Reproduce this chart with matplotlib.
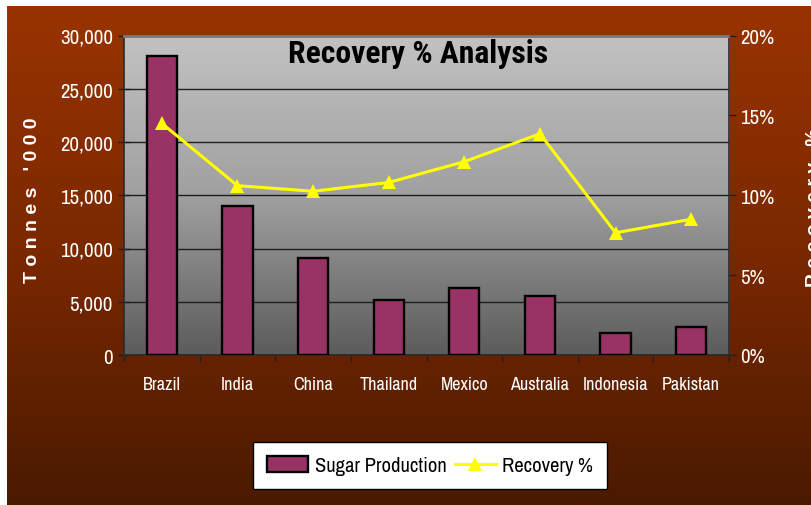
import matplotlib
matplotlib.use('Agg')
import matplotlib.pyplot as plt
import numpy as np
from matplotlib import font_manager as fm
from matplotlib.colors import LinearSegmentedColormap
from matplotlib.patches import Patch
from matplotlib.lines import Line2D
from matplotlib.ticker import FuncFormatter

# ---- data ----
categories = ['Brazil', 'India', 'China', 'Thailand', 'Mexico', 'Australia', 'Indonesia', 'Pakistan']
production = [28100, 14000, 9100, 5200, 6300, 5500, 2100, 2600]          # Tonnes '000
recovery = [14.5, 10.6, 10.25, 10.8, 12.1, 13.85, 7.65, 8.5]               # %
left_ticks = [0, 5000, 10000, 15000, 20000, 25000, 30000]
right_ticks = [0, 5, 10, 15, 20]
title = 'Recovery % Analysis'
left_label = "Tonnes '000"
right_label = 'Recovery %'
series_names = ['Sugar Production', 'Recovery %']

# ---- fonts: prefer a condensed sans (like Arial Narrow) ----
def _w(v):
    return v if isinstance(v, (int, float)) else fm.weight_dict.get(str(v), 400)

faces = {}
for f in fm.fontManager.ttflist:
    faces.setdefault(f.name, set()).add(_w(f.weight))

narrow_pref = ['Liberation Sans Narrow', 'Arial Narrow', 'Archivo Narrow', 'Roboto Condensed',
               'PT Sans Narrow', 'Barlow Condensed', 'Asap Condensed', 'Pragati Narrow']
bold_pref = ['Liberation Sans Narrow', 'Arial Narrow', 'Roboto Condensed', 'PT Sans Narrow',
             'Archivo Narrow', 'Asap Condensed', 'Barlow Condensed', 'Fira Sans Condensed',
             'IBM Plex Sans Condensed', 'Encode Sans Condensed', 'Saira Condensed']
narrow = next((f for f in narrow_pref if f in faces), None)
narrow_bold = next((f for f in bold_pref if f in faces and max(faces[f]) >= 600), None)

WIDE = ['Liberation Sans', 'DejaVu Sans']
NARROW = ([narrow] if narrow else []) + WIDE
NARROW_BOLD = ([narrow_bold] if narrow_bold else []) + WIDE
plt.rcParams['font.family'] = NARROW

k = 1.0 if narrow else 0.82
kb = 1.0 if narrow_bold else 0.8
FS_TITLE = 22.8 * kb
FS_TICK = 15 * k
FS_CAT = 13 * k
FS_LEG = 14.8 * k

W, H = 811, 506
fig = plt.figure(figsize=(W / 100, H / 100), dpi=100, facecolor='white')

# background gradient (brown)
bg = fig.add_axes([7 / W, 0, 1 - 7 / W, 1 - 7 / H], zorder=-10)
bg.axis('off')
grad = np.linspace(0, 1, 256).reshape(-1, 1)
bg.imshow(grad, cmap=LinearSegmentedColormap.from_list('bg', ['#993300', '#7a2800', '#4a1a00']),
          aspect='auto', extent=[0, 1, 0, 1], origin='upper')

# main axes
ax = fig.add_axes([124 / W, 1 - 356 / H, (729 - 124) / W, (356 - 36.5) / H])
ax.set_facecolor('none')
ax.imshow(grad, cmap=LinearSegmentedColormap.from_list('pl', ['#c2c2c2', '#a0a0a0', '#5c5c5c']),
          aspect='auto', extent=[0, 1, 0, 1], origin='upper', transform=ax.transAxes, zorder=0)

x = np.arange(len(categories))
ax.bar(x, production, width=0.4, color='#993366', edgecolor='black', linewidth=1.7, zorder=3)
ax.set_xlim(-0.5, len(categories) - 0.5)
ax.set_ylim(0, 30000)
ax.set_yticks(left_ticks)
ax.yaxis.set_major_formatter(FuncFormatter(lambda v, p: f'{int(v):,}'))
ax.set_xticks(x)
ax.set_xticklabels(categories)
ax.set_xticks(np.arange(len(categories) + 1) - 0.5, minor=True)
ax.tick_params(axis='x', which='major', length=0, pad=15, labelsize=FS_CAT, labelcolor='white')
ax.tick_params(axis='x', which='minor', direction='out', length=5, width=1, color='#202020')
ax.tick_params(axis='y', which='major', direction='inout', length=8, width=1, color='#202020',
               pad=4, labelsize=FS_TICK, labelcolor='white')
ax.grid(axis='y', color='#1e1e1e', linewidth=1.0)
ax.set_axisbelow('line')
for s in ['left', 'right', 'bottom']:
    ax.spines[s].set_color('#2a2a2a')
    ax.spines[s].set_linewidth(1.2)
ax.spines['top'].set_color('#7a7a7a')
ax.spines['top'].set_linewidth(2)

# secondary axis
ax2 = ax.twinx()
ax2.plot(x, recovery, color='#ffff00', linewidth=2.2, marker='^', markersize=10,
         markeredgewidth=0, zorder=5)
ax2.set_ylim(0, 20)
ax2.set_yticks(right_ticks)
ax2.yaxis.set_major_formatter(FuncFormatter(lambda v, p: f'{int(v)}%'))
ax2.tick_params(axis='y', direction='out', length=5, width=1, color='#202020',
                pad=3, labelsize=FS_TICK, labelcolor='white')
for s in ax2.spines.values():
    s.set_visible(False)

# texts
fig.text(418 / W, 1 - 63 / H, title, ha='center', va='baseline', fontsize=FS_TITLE,
         fontweight='bold', color='black', family=NARROW_BOLD)
fig.text(33 / W, 1 - 200 / H, ' '.join(left_label), rotation=90, ha='center', va='center',
         fontsize=14, fontweight='bold', color='white', family=WIDE)
fig.text(806 / W, 1 - 208 / H, ' '.join(right_label), rotation=90, ha='left', va='center',
         fontsize=14, fontweight='bold', color='white', family=WIDE)

# legend
handles = [Patch(facecolor='#993366', edgecolor='black', linewidth=1.7),
           Line2D([0], [0], color='#ffff00', linewidth=2.2, marker='^', markersize=10,
                  markeredgewidth=0)]
leg = fig.legend(handles, series_names, loc='center', bbox_to_anchor=(430 / W, 1 - 466.5 / H),
                 ncol=2, frameon=True, fancybox=False, fontsize=FS_LEG, handlelength=2.0,
                 handleheight=0.8, handletextpad=0.3, columnspacing=0.4, borderpad=0.7,
                 borderaxespad=0)
leg.get_frame().set_edgecolor('black')
leg.get_frame().set_linewidth(1.0)
leg.get_frame().set_facecolor('white')
leg.get_frame().set_alpha(1)

fig.savefig('out.png', dpi=100, facecolor='white')
